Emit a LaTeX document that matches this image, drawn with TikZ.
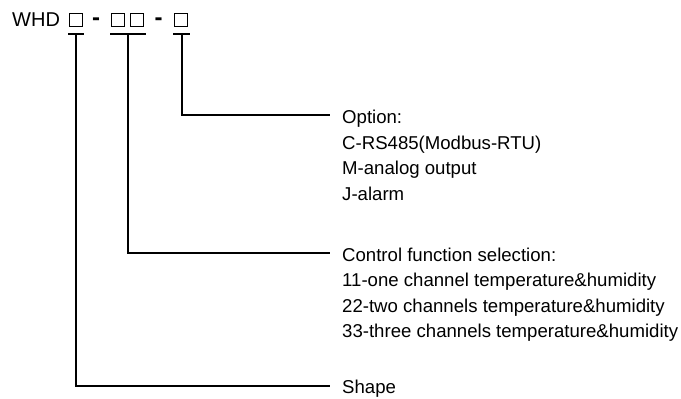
\documentclass[tikz,border=0pt]{standalone}
\usepackage{fontspec}
\setmainfont{Liberation Sans}
\begin{document}
\begin{tikzpicture}[x=1pt,y=-1pt,
  lbl/.style={anchor=base west, inner sep=0pt, font=\fontsize{18.6}{22}\selectfont},
  sq/.style={draw, line width=1pt, minimum size=13pt, inner sep=0pt},
  dsh/.style={anchor=base, inner sep=0pt, font=\fontsize{24}{26}\selectfont\bfseries},
  conn/.style={line width=1.6pt}]
\useasboundingbox (0,0) rectangle (681,399);
% code
\node[anchor=base west, inner sep=0pt, font=\fontsize{20}{24}\selectfont] (whd) at (12,26) {WHD};
\node[sq] (b1) at (75.5,19.5) {};
\node[dsh] (d1) at (96,25.4) {-};
\node[sq] (b2a) at (118,19.5) {};
\node[sq] (b2b) at (136.5,19.5) {};
\node[dsh] (d2) at (158.5,25.4) {-};
\node[sq] (b3) at (180.5,19.5) {};
% bar coordinates
\coordinate (t1l) at (68,34); \coordinate (t1r) at (84,34); \coordinate (t1) at (76,34);
\coordinate (t2l) at (110,34); \coordinate (t2r) at (146,34); \coordinate (t2) at (128,34);
\coordinate (t3l) at (173,34); \coordinate (t3r) at (190,34); \coordinate (t3) at (182,34);
% label ends
\coordinate (e3) at (330,115);
\coordinate (e2) at (330,253);
\coordinate (e1) at (330,386);
% labels
\node[lbl] (o1) at (342,123.5) {Option:};
\node[lbl] (o2) at (342,149) {C-RS485(Modbus-RTU)};
\node[lbl] (o3) at (342,174.5) {M-analog output};
\node[lbl] (o4) at (342,200) {J-alarm};
\node[lbl] (c1) at (342,261) {Control function selection:};
\node[lbl] (c2) at (342,286.5) {11-one channel temperature\&humidity};
\node[lbl] (c3) at (342,312) {22-two channels temperature\&humidity};
\node[lbl] (c4) at (342,337.5) {33-three channels temperature\&humidity};
\node[lbl] (s1) at (342,393.5) {Shape};
% connectors
\draw[conn] (t1l) -- (t1r);
\draw[conn] (t2l) -- (t2r);
\draw[conn] (t3l) -- (t3r);
\draw[conn] (t3) |- (e3);
\draw[conn] (t2) |- (e2);
\draw[conn] (t1) |- (e1);
\end{tikzpicture}
\end{document}
